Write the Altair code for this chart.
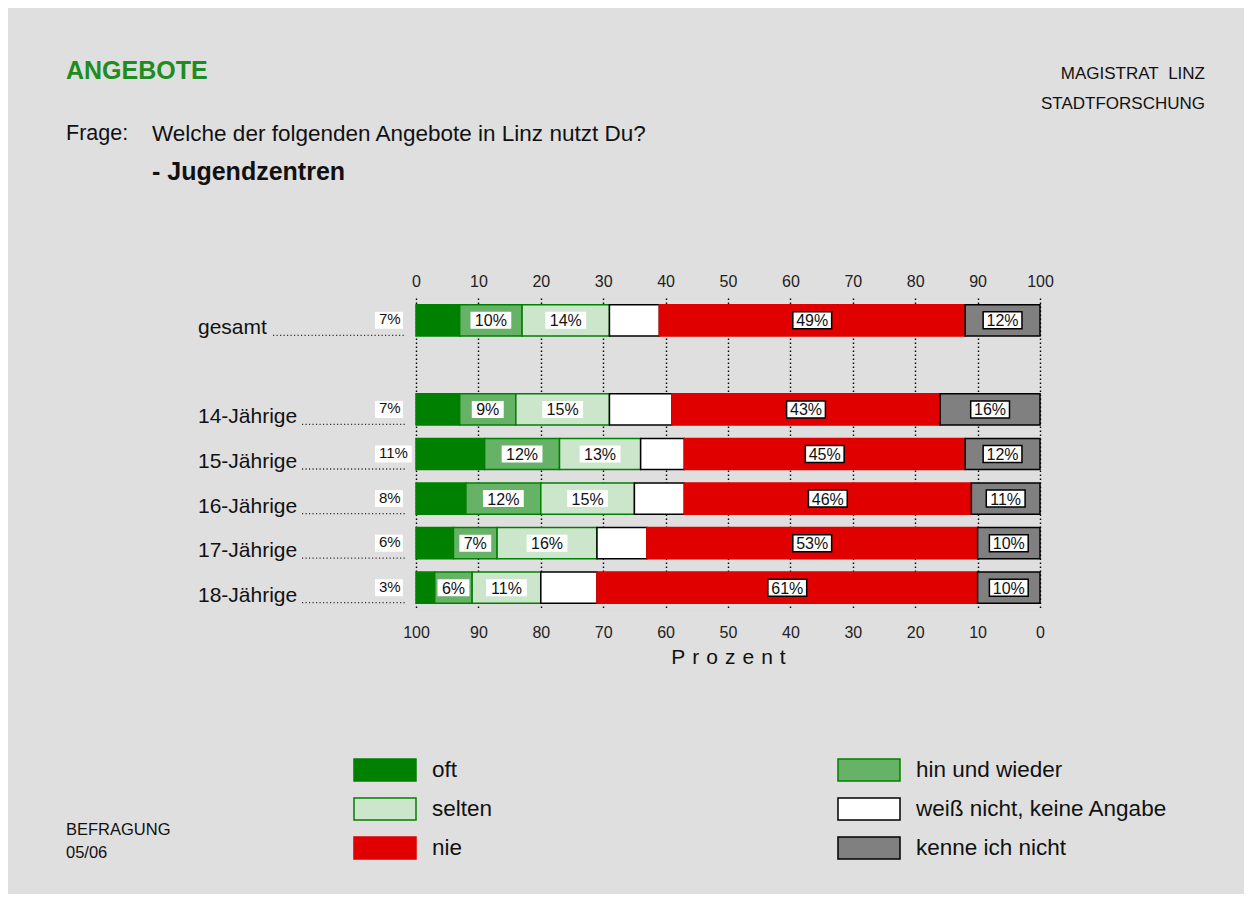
import altair as alt
import pandas as pd

# ---------------- data ----------------
rows = ["gesamt", "14-Jährige", "15-Jährige", "16-Jährige", "17-Jährige", "18-Jährige"]
categories = ["oft", "hin und wieder", "selten", "weiß nicht, keine Angabe", "nie", "kenne ich nicht"]
oft = [7, 7, 11, 8, 6, 3]
hin = [10, 9, 12, 12, 7, 6]
selten = [14, 15, 13, 15, 16, 11]
weiss = [8, 10, 7, 8, 8, 9]
nie = [49, 43, 45, 46, 53, 61]
kenne = [12, 16, 12, 11, 10, 10]
x_ticks = list(range(0, 101, 10))

colors = ["#008000", "#66b266", "#cce6cc", "#ffffff", "#e00000", "#808080"]
strokes = ["#008000", "#008000", "#008000", "#000000", "#e00000", "#000000"]

FONT = "Liberation Sans, Arial, Helvetica, sans-serif"
W, H = 624, 312
U = 100.0 / W  # data units per pixel

series = [oft, hin, selten, weiss, nie, kenne]
records = []
for r_i, r in enumerate(rows):
    for c_i, c in enumerate(categories):
        records.append({"row": r, "cat": c, "ord": c_i, "value": series[c_i][r_i]})
df = pd.DataFrame(records)

ydomain = [rows[0], " "] + rows[1:]
xs = alt.Scale(domain=[0, 100], nice=False, zero=False)
ys = alt.Scale(domain=ydomain, paddingInner=0.3, paddingOuter=0.15)
y_enc = alt.Y("row:N", scale=ys, axis=None)
col_enc = alt.Color("cat:N", scale=alt.Scale(domain=categories, range=colors), legend=None)
str_enc = alt.Stroke("cat:N", scale=alt.Scale(domain=categories, range=strokes), legend=None)


def xq(field):
    return alt.X(field, scale=xs, axis=None)


base = alt.Chart(df).transform_stack(
    stack="value", as_=["x0", "x1"], groupby=["row"], sort=[alt.SortField("ord", order="ascending")]
).transform_calculate(
    mid="(datum.x0 + datum.x1) / 2",
    label="datum.value + '%'",
    bw="length(toString(datum.value)) * 8.9 + 23",
)

bars = base.mark_bar(strokeWidth=1.5).encode(
    x=alt.X("x0:Q", scale=xs, axis=alt.Axis(
        orient="top", values=x_ticks, grid=True, gridDash=[1.5, 2.5], gridColor="black",
        gridWidth=1.4, ticks=False, domain=False, labelFontSize=16, labelColor="#222",
        labelPadding=9, labelFlush=False, title=None)),
    x2="x1:Q",
    y=y_enc,
    color=col_enc,
    stroke=str_enc,
)

# bottom axis (reversed labels)
axis_df = pd.DataFrame({"t": x_ticks})
bottom_axis = alt.Chart(axis_df).mark_point(opacity=0).encode(
    x=alt.X("t:Q", scale=xs, axis=alt.Axis(
        orient="bottom", values=x_ticks, grid=False, ticks=False, domain=False,
        labelFontSize=16, labelColor="#222", labelPadding=14, labelFlush=False,
        labelExpr="100 - datum.value",
        title="P\u2004r\u2004o\u2004z\u2004e\u2004n\u2004t", titleFontSize=21,
        titleFontWeight="normal", titlePadding=6, titleColor="#111")),
)

inner = base.transform_filter(
    alt.FieldOneOfPredicate(field="cat", oneOf=["hin und wieder", "selten"])
).transform_calculate(
    bx0=f"datum.mid - datum.bw / 2 * {U}",
    bx1=f"datum.mid + datum.bw / 2 * {U}",
)
inner_box = inner.mark_bar(size=17, color="white").encode(
    x=xq("bx0:Q"), x2="bx1:Q", y=y_enc)
inner_txt = inner.mark_text(fontSize=16, color="#111", dy=1).encode(
    x=xq("mid:Q"), y=y_enc, text="label:N")

outer = base.transform_filter(
    alt.FieldOneOfPredicate(field="cat", oneOf=["nie", "kenne ich nicht"])
).transform_calculate(
    bx0=f"datum.mid - (datum.bw - 2) / 2 * {U}",
    bx1=f"datum.mid + (datum.bw - 2) / 2 * {U}",
)
outer_box = outer.mark_bar(size=17, color="white", stroke="black", strokeWidth=1.5).encode(
    x=xq("bx0:Q"), x2="bx1:Q", y=y_enc)
outer_txt = outer.mark_text(fontSize=16, color="#111", dy=1).encode(
    x=xq("mid:Q"), y=y_enc, text="label:N")

oftd = base.transform_filter(alt.datum.cat == "oft").transform_calculate(
    bx0=f"-41 * {U}",
    bx1=f"(-41 + datum.bw - 4) * {U}",
)
oft_box = oftd.mark_bar(size=17, color="white").encode(
    x=xq("bx0:Q"), x2="bx1:Q", y=y_enc)
oft_txt = oftd.mark_text(fontSize=15, color="#111", align="left", dy=-1).encode(
    x=alt.value(-37), y=y_enc, text="label:N")

# row labels with dotted leaders
lab_df = pd.DataFrame({"row": rows})
row_lab = alt.Chart(lab_df).mark_text(
    fontSize=21, align="left", baseline="alphabetic", dy=14, color="#111"
).encode(x=alt.value(-218), y=y_enc, text="row:N")
row_dots = alt.Chart(lab_df).transform_calculate(
    dstart="-186.5 + 7.25 * length(datum.row)"
).mark_rule(strokeDash=[1.2, 2.3], strokeWidth=1.3, color="#333", yOffset=15).encode(
    x=alt.X("dstart:Q", scale=None), x2=alt.value(-10), y=y_enc)


def note(txt, x, y, size, align="left", weight="normal", color="#111"):
    return alt.Chart(alt.Data(values=[{}])).mark_text(
        fontSize=size, align=align, baseline="middle", fontWeight=weight, color=color
    ).encode(x=alt.value(x), y=alt.value(y), text=alt.value(txt))


notes = [
    note("ANGEBOTE", -350, -227, 25, weight="bold", color="#1e8c1e"),
    note("MAGISTRAT\u00a0 LINZ", 789, -224, 17, align="right"),
    note("STADTFORSCHUNG", 789, -194, 17, align="right"),
    note("Frage:", -350, -164, 21.5),
    note("Welche der folgenden Angebote in Linz nutzt Du?", -264, -164, 22.5),
    note("- Jugendzentren", -264, -126, 25, weight="bold"),
    note("BEFRAGUNG", -350, 532, 16.5),
    note("05/06", -350, 555, 16.5),
]

# custom legend
leg_df = pd.DataFrame({"cat": categories, "idx": list(range(len(categories)))})
leg = alt.Chart(leg_df).transform_calculate(
    lx0="-62 + (datum.idx % 2) * 484",
    lx1="(datum.idx % 2) * 484",
    ly0="461 + floor(datum.idx / 2) * 39",
    ly1="483 + floor(datum.idx / 2) * 39",
    tx="16 + (datum.idx % 2) * 484",
    ty="472 + floor(datum.idx / 2) * 39",
)
leg_sw = leg.mark_rect(strokeWidth=1.5).encode(
    x=alt.X("lx0:Q", scale=None), x2="lx1:Q",
    y=alt.Y("ly0:Q", scale=None), y2="ly1:Q",
    color=col_enc, stroke=str_enc)
leg_tx = leg.mark_text(fontSize=22.5, align="left", baseline="middle", color="#111").encode(
    x=alt.X("tx:Q", scale=None), y=alt.Y("ty:Q", scale=None), text="cat:N")

chart = alt.layer(
    bars, bottom_axis, inner_box, inner_txt, outer_box, outer_txt, oft_box, oft_txt,
    row_lab, row_dots, leg_sw, leg_tx, *notes
).resolve_axis(x="independent").properties(
    width=W, height=H,
    autosize=alt.AutoSizeParams(type="none"),
    padding={"left": 408, "top": 290, "right": 204, "bottom": 284},
    background="#dfdfdf",
).configure_view(
    fill="white", stroke="black", strokeWidth=2
).configure(font=FONT)

chart.save("out.html", embed_options={"renderer": "svg", "actions": False})
